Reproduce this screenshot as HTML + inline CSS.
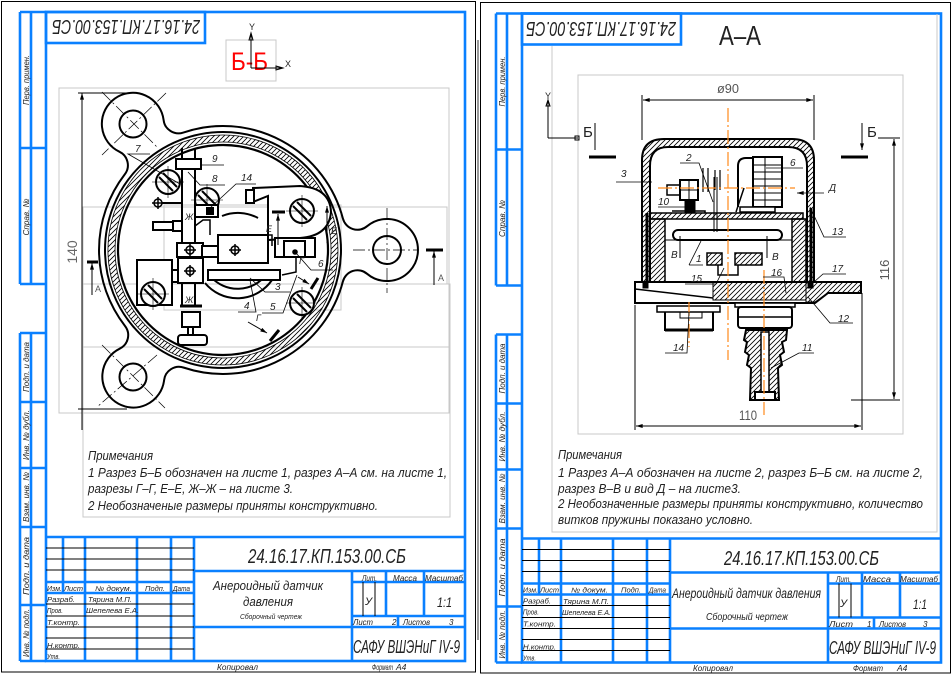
<!DOCTYPE html>
<html><head><meta charset="utf-8"><style>
html,body{margin:0;padding:0;background:#fff;}
svg{display:block;}
text{font-family:"Liberation Sans",sans-serif;font-style:italic;fill:#222;}
.up{font-style:normal;}
</style></head><body>
<svg width="951" height="677" viewBox="0 0 951 677" xmlns="http://www.w3.org/2000/svg">
<defs>
<pattern id="h" patternUnits="userSpaceOnUse" width="5" height="5"><path d="M-1,6 L6,-1 M-1,1 L1,-1 M4,6 L6,4" stroke="#000" stroke-width="0.8"/></pattern>
<marker id="ar" viewBox="0 0 10 6" refX="10" refY="3" markerWidth="8" markerHeight="4" orient="auto-start-reverse" markerUnits="userSpaceOnUse"><path d="M0,0 L10,3 L0,6 Z" fill="#000"/></marker>
<g id="frame" fill="none">
 <g stroke="#0a80ff" stroke-width="2.6">
  <rect x="46" y="12" width="419" height="649"/>
  <path d="M20,12 V284 M31,12 V284 M20,12 H46 M20,148 H46 M20,284 H46"/>
  <path d="M20,333 V661 M31,333 V661 M20,333 H46 M20,402 H46 M20,468 H46 M20,527 H46 M20,605 H46 M20,661 H46"/>
  <rect x="46" y="12" width="159" height="31"/>
  <path d="M46,537 H465 M63,537 V593 M85,537 V661 M137,537 V661 M171,537 V661 M194,537 V661 M46,582 H194 M46,593 H194 M194,571 H465 M352,571 V661 M352,582 H465 M386,571 V616 M424,571 V616 M352,616 H465 M398,616 V627 M194,627 H465"/>
 </g>
 <g stroke="#000" stroke-width="1">
  <path d="M46,548 H194 M46,559 H194 M46,570 H194 M46,604 H194 M46,616 H194 M46,627 H194 M46,638 H194 M46,649 H194 M363,582 V616 M375,582 V616"/>
 </g>
 <g font-size="8.5" text-anchor="middle">
  <text transform="translate(29,80) rotate(-90)" textLength="50" lengthAdjust="spacingAndGlyphs">Перв. примен.</text>
  <text transform="translate(29,217) rotate(-90)" textLength="37" lengthAdjust="spacingAndGlyphs">Справ. №</text>
  <text transform="translate(29,367) rotate(-90)" textLength="50" lengthAdjust="spacingAndGlyphs">Подп. и дата</text>
  <text transform="translate(29,435) rotate(-90)" textLength="50" lengthAdjust="spacingAndGlyphs">Инв. № дубл.</text>
  <text transform="translate(29,497) rotate(-90)" textLength="50" lengthAdjust="spacingAndGlyphs">Взам. инв. №</text>
  <text transform="translate(29,566) rotate(-90)" textLength="58" lengthAdjust="spacingAndGlyphs">Подп. и дата</text>
  <text transform="translate(29,633) rotate(-90)" textLength="48" lengthAdjust="spacingAndGlyphs">Инв. № подл.</text>
 </g>
 <g font-size="7">
  <text x="47" y="591" textLength="15" lengthAdjust="spacingAndGlyphs">Изм.</text>
  <text x="64" y="591" textLength="19" lengthAdjust="spacingAndGlyphs">Лист</text>
  <text x="95" y="591" textLength="37" lengthAdjust="spacingAndGlyphs">№ докум.</text>
  <text x="145" y="591" textLength="20" lengthAdjust="spacingAndGlyphs">Подп.</text>
  <text x="173" y="591" textLength="17" lengthAdjust="spacingAndGlyphs">Дата</text>
  <text x="47" y="602" textLength="28" lengthAdjust="spacingAndGlyphs">Разраб.</text>
  <text x="47" y="613" textLength="16" lengthAdjust="spacingAndGlyphs">Пров.</text>
  <text x="47" y="625" textLength="33" lengthAdjust="spacingAndGlyphs">Т.контр.</text>
  <text x="47" y="648" textLength="33" lengthAdjust="spacingAndGlyphs">Н.контр.</text>
  <text x="47" y="659" textLength="13" lengthAdjust="spacingAndGlyphs">Утв.</text>
 </g>
</g>
<g id="scr"><circle r="12" fill="#fff"/><path d="M-9,-5 L5,9 M-5,-9 L9,5"/><path d="M-16,0 H16 M0,-16 V16" stroke-width="0.6"/></g>
<g id="pl"><circle r="4" fill="#fff" stroke-width="1.5"/><path d="M-6,0H6M0,-6V6" stroke-width="1.5"/></g>
</defs>

<rect width="951" height="677" fill="#fff"/>

<rect x="1.5" y="1.5" width="474" height="670.5" fill="none" stroke="#000" stroke-width="1"/>
<rect x="480.5" y="2.5" width="470" height="670.5" fill="none" stroke="#000" stroke-width="1"/>
<path d="M478,40 V640" stroke="#000" stroke-width="0.8"/>

<use href="#frame"/>
<use href="#frame" transform="translate(476,1.5)"/>

<!-- ================= LEFT SHEET ================= -->
<text transform="translate(126,20) rotate(180)" font-size="20" text-anchor="middle" textLength="148" lengthAdjust="spacingAndGlyphs">24.16.17.КП.153.00.СБ</text>

<g fill="none" stroke="#c8c8c8" stroke-width="1">
 <rect x="226" y="40" width="50" height="41"/>
 <rect x="59" y="88" width="390" height="325"/>
 <rect x="83" y="207" width="364" height="77"/>
 <rect x="164" y="205" width="177" height="105"/>
 <rect x="83" y="284" width="367" height="63"/>
 <rect x="83" y="347" width="367" height="170"/>
</g>

<text class="up" x="231" y="70" font-size="25" style="fill:#ff0000" textLength="37" lengthAdjust="spacingAndGlyphs">Б-Б</text>
<g stroke="#000" stroke-width="1" fill="none">
 <path d="M251,68 V33 M251,68 H283"/>
 <path d="M249,40 L251,33 L253,40 Z M276,66 L283,68 L276,70 Z"/>
</g>
<text class="up" x="249" y="30" font-size="9" fill="#333">Y</text>
<text class="up" x="285" y="67" font-size="9" fill="#333">X</text>

<g fill="none" stroke="#000" stroke-width="2">
 <path d="M183.35,132.53 A124,124 0 0 1 342.9,218.5 A15,15 0 0 0 367.1,226.2 A31,31 0 1 1 367.1,273.8 A15,15 0 0 0 342.9,281.5 A124,124 0 0 1 183.78,367.62 A15,15 0 0 0 164.11,380.16 A31,31 0 1 1 119.71,348.70 A15,15 0 0 0 125.02,325.98 A124,124 0 0 1 124.75,174.39 A15,15 0 0 0 119.35,151.69 A31,31 0 1 1 163.63,120.07 A15,15 0 0 0 183.35,132.53 Z"/>
 <circle cx="133" cy="124" r="13.5"/>
 <circle cx="387" cy="250" r="14"/>
 <circle cx="133" cy="377" r="13.5"/>
 <circle cx="223" cy="250" r="118"/>
 <path d="M223,135 A115,115 0 1 1 222.9,135 Z M223,142 A108,108 0 1 0 223.1,142 Z" fill="url(#h)" fill-rule="evenodd" stroke-width="0.8"/>
 <circle cx="223" cy="250" r="105" stroke-width="2.2"/>
</g>
<g fill="none" stroke="#000" stroke-width="0.7" stroke-dasharray="12,3,2,3">
 <path d="M102,92 L157,147 M166,93 L102,155"/>
 <path d="M102,345 L165,408 M157,355 L97,407"/>
 <path d="M353,250 H417 M387,208 V293"/>
</g>

<g stroke="#000" stroke-width="1" fill="none">
 <path d="M78,93 H133 M78,409 H127"/>
 <path d="M82,93 V430" marker-start="url(#ar)"/>
</g>
<text class="up" transform="translate(77,252) rotate(-90)" font-size="14" text-anchor="middle" style="fill:#666">140</text>

<g stroke="#000" fill="none">
 <path d="M87,262 H98" stroke-width="3"/>
 <path d="M92,295 V263" stroke-width="1" marker-end="url(#ar)"/>
 <path d="M426,250 H443" stroke-width="3"/>
 <path d="M434,285 V251" stroke-width="1" marker-end="url(#ar)"/>
</g>
<text class="up" x="95" y="292" font-size="9" style="fill:#555">А</text>
<text class="up" x="438" y="281" font-size="9" style="fill:#555">А</text>

<g fill="none" stroke="#000" stroke-width="2">
 <path d="M222,216 A42,42 0 0 1 258,218 M205,283 A42,42 0 0 0 272,280 M211,277 A36,36 0 0 0 266,275"/>
 <path d="M182,148 V307 M195,148 V307"/>
 <path d="M158,203 H182"/>
 <rect x="176" y="159" width="25" height="10" fill="#fff"/>
 <use href="#scr" x="168" y="182"/>
 <use href="#scr" x="207" y="200"/>
 <use href="#pl" x="158" y="203"/>
 <rect x="195" y="205" width="23" height="12" fill="#fff"/>
 <rect x="207" y="208" width="6" height="6" fill="#000"/>
 <rect x="153" y="222" width="20" height="8" fill="#fff"/>
 <rect x="173" y="221" width="9" height="10" fill="#fff"/>
 <path d="M195,226 L203,220 H210 V235" stroke-width="1.5"/>
 <path d="M253,202 V188 L300,186 Q330,188 331,212 Q329,236 300,238 L268,240 L268,196 Z" fill="#fff"/>
 <rect x="246" y="190" width="8" height="13" fill="#fff"/>
 <use href="#scr" x="302" y="211"/>
 <rect x="177" y="243" width="26" height="14" fill="#fff"/>
 <rect x="202" y="246" width="16" height="11" fill="#fff"/>
 <rect x="218" y="235" width="50" height="28" fill="#fff"/>
 <use href="#pl" x="190" y="250"/>
 <use href="#pl" x="235" y="250"/>
 <path d="M268,235 H272 V246" stroke-width="1.5"/>
 <rect x="275" y="238" width="40" height="19" fill="#fff"/>
 <rect x="284" y="241" width="21" height="16" fill="#fff"/>
 <circle cx="295" cy="252" r="1.8" fill="#000"/>
 <path d="M296,257 V272 L282,275" stroke-width="1.5"/>
 <rect x="208" y="270" width="72" height="10" fill="#fff"/>
 <rect x="137" y="260" width="35" height="45" fill="#fff"/>
 <use href="#scr" x="153" y="294"/>
 <rect x="172" y="270" width="6" height="12" fill="#fff"/>
 <rect x="178" y="258" width="25" height="25" fill="#fff"/>
 <use href="#pl" x="190" y="271"/>
 <rect x="182" y="312" width="18" height="15" fill="#fff"/>
 <path d="M188,327 V335 M193,327 V335"/>
 <rect x="178" y="335" width="29" height="10" rx="3" fill="#fff"/>
 <path d="M180,306 H202" stroke-width="3"/>
 <use href="#scr" x="302" y="303"/>
</g>
<g stroke="#000" fill="none" stroke-width="1">
 <path d="M272,212 H285" stroke-width="3"/>
 <path d="M278,245 V214" marker-end="url(#ar)"/>
 <path d="M327,243 V206" marker-end="url(#ar)"/>
 <path d="M298,277 L309,284" marker-end="url(#ar)"/>
 <path d="M311,289 L318,278" stroke-width="3"/>
 <path d="M248,322 L267,333" marker-end="url(#ar)"/>
 <path d="M270,341 L279,330" stroke-width="3"/>
</g>
<g font-size="9" fill="#333" class="up" style="font-style:normal">
 <text x="266" y="232">Е</text><text x="331" y="234">Е</text>
 <text x="185" y="220">Ж</text><text x="185" y="303">Ж</text>
 <text x="299" y="264">Г</text><text x="256" y="321">Г</text>
</g>
<g stroke="#000" stroke-width="0.8" fill="none">
 <path d="M150,154 H128 L180,184"/>
 <path d="M224,165 H201"/>
 <path d="M225,185 H200 L188,172"/>
 <path d="M256,184 H236 L210,208"/>
 <path d="M333,270 H311 L296,253"/>
 <path d="M290,292 H265 L250,278"/>
 <path d="M238,312 H256 L250,280"/>
 <path d="M262,313 H283 L297,275"/>
</g>
<g font-size="10" fill="#333">
 <text x="135" y="152">7</text><text x="212" y="162">9</text><text x="212" y="182">8</text>
 <text x="241" y="181">14</text><text x="318" y="267">6</text><text x="275" y="290">3</text>
 <text x="244" y="309">4</text><text x="270" y="310">5</text>
</g>

<g font-size="12.5" fill="#333">
 <text x="88" y="460" textLength="65" lengthAdjust="spacingAndGlyphs">Примечания</text>
 <text x="88" y="477" textLength="359" lengthAdjust="spacingAndGlyphs">1 Разрез Б–Б обозначен на листе 1, разрез А–А см. на листе 1,</text>
 <text x="88" y="493" textLength="205" lengthAdjust="spacingAndGlyphs">разрезы Г–Г, Е–Е, Ж–Ж – на листе 3.</text>
 <text x="88" y="510" textLength="290" lengthAdjust="spacingAndGlyphs">2 Необозначеные размеры приняты конструктивно.</text>
</g>

<text x="248" y="563" font-size="20" textLength="158" lengthAdjust="spacingAndGlyphs">24.16.17.КП.153.00.СБ</text>
<text x="213" y="590" font-size="13" textLength="110" lengthAdjust="spacingAndGlyphs">Анероидный датчик</text>
<text x="243" y="606" font-size="13" textLength="50" lengthAdjust="spacingAndGlyphs">давления</text>
<text x="240" y="619" font-size="7" textLength="62" lengthAdjust="spacingAndGlyphs">Сборочный чертеж</text>
<g font-size="8">
 <text x="362" y="581" textLength="15" lengthAdjust="spacingAndGlyphs">Лит.</text>
 <text x="393" y="581" textLength="24" lengthAdjust="spacingAndGlyphs">Масса</text>
 <text x="425" y="581" textLength="38" lengthAdjust="spacingAndGlyphs">Масштаб</text>
 <text x="353" y="625" textLength="20" lengthAdjust="spacingAndGlyphs">Лист</text>
 <text x="392" y="625">2</text>
 <text x="403" y="625" textLength="27" lengthAdjust="spacingAndGlyphs">Листов</text>
 <text x="449" y="625">3</text>
</g>
<text x="365" y="605" font-size="11">У</text>
<text x="437" y="607" font-size="14" textLength="15" lengthAdjust="spacingAndGlyphs">1:1</text>
<text x="88" y="602" font-size="7" textLength="44" lengthAdjust="spacingAndGlyphs">Тярина М.П.</text>
<text x="86" y="613" font-size="7" textLength="53" lengthAdjust="spacingAndGlyphs">Шепелева Е.А.</text>
<text x="353" y="653" font-size="18" textLength="107" lengthAdjust="spacingAndGlyphs">САФУ ВШЭНиГ IV-9</text>
<text x="217" y="670" font-size="8.5" textLength="41" lengthAdjust="spacingAndGlyphs">Копировал</text>
<text x="372" y="670" font-size="8.5" textLength="21" lengthAdjust="spacingAndGlyphs">Формат</text>
<text x="396" y="670" font-size="8.5">А4</text>

<!-- ================= RIGHT SHEET ================= -->
<text transform="translate(601,22) rotate(180)" font-size="20" text-anchor="middle" textLength="150" lengthAdjust="spacingAndGlyphs">24.16.17.КП.153.00.СБ</text>
<text class="up" x="719" y="45" font-size="28" fill="#111" textLength="42" lengthAdjust="spacingAndGlyphs">А–А</text>

<g fill="none" stroke="#c8c8c8" stroke-width="1">
 <path d="M552,46 V532 H937 V14"/>
 <rect x="578" y="75" width="325" height="359"/>
</g>

<g stroke="#000" stroke-width="1" fill="none">
 <path d="M548,138 V100 M548,138 H578"/>
 <path d="M546,106 L548,100 L550,106 Z"/>
 <rect x="575" y="136" width="4" height="4"/>
</g>
<text class="up" x="545" y="99" font-size="9" fill="#333">Y</text>

<g stroke="#000" fill="none">
 <path d="M589,157 H616 M841,157 H868" stroke-width="3"/>
 <path d="M595,123 V150 M862,123 V150" stroke-width="1" marker-end="url(#ar)"/>
</g>
<text class="up" x="583" y="137" font-size="15" fill="#222">Б</text>
<text class="up" x="867" y="137" font-size="15" fill="#222">Б</text>

<g stroke="#000" stroke-width="1" fill="none">
 <path d="M642,95 V140 M814,95 V140"/>
 <path d="M643,100 H813" marker-start="url(#ar)" marker-end="url(#ar)"/>
 <path d="M878,138 H900 M851,400 H900"/>
 <path d="M894,139 V399" marker-start="url(#ar)" marker-end="url(#ar)"/>
 <path d="M635,305 V430 M862,293 V430"/>
 <path d="M636,426 H861" marker-start="url(#ar)" marker-end="url(#ar)"/>
</g>
<text class="up" x="717" y="93" font-size="13" style="fill:#555" textLength="22" lengthAdjust="spacingAndGlyphs">ø90</text>
<text class="up" transform="translate(889,270) rotate(-90)" font-size="13" text-anchor="middle" style="fill:#555">116</text>
<text class="up" x="739" y="420" font-size="14" style="fill:#555" textLength="18" lengthAdjust="spacingAndGlyphs">110</text>

<g stroke="#000" stroke-width="2" fill="none">
 <path d="M642,282 V160 Q642,139 664,139 H792 Q814,139 814,160 V282 H807 V166 Q807,147 788,147 H668 Q650,147 650,166 V282 Z" fill="url(#h)"/>
 <path d="M647,213 V287 M811,208 V287" stroke-width="3"/>
 <rect x="650" y="213" width="153" height="6" fill="url(#h)" stroke-width="1.5"/>
 <path d="M650,219 H665 V282 H650 Z M792,219 H806 V282 H792 Z" fill="url(#h)" stroke-width="1.5"/>
 <path d="M665,282 H792" stroke-width="1.5"/>
 <path d="M635,282 H861 V293 H828 L815,303 H635 Z"/>
 <path d="M713,282 H806 V300 H713 Z" fill="url(#h)" stroke-width="1"/>
 <path d="M806,282 H861 V293 H828 L815,302 H806 Z" fill="url(#h)" stroke-width="1"/>
 <path d="M635,289 L713,298" stroke-width="1.5"/>
 <rect x="643" y="283" width="5" height="5" fill="#000" stroke-width="1"/>
 <rect x="808" y="283" width="5" height="5" fill="#000" stroke-width="1"/>
 <rect x="673" y="230" width="109" height="10" rx="5" fill="#fff" stroke-width="2"/>
 <path d="M665,240 H792" stroke-width="1"/>
 <path d="M680,236 V258 M767,236 V258" stroke-width="1"/>
 <path d="M707,253 H722 V265 H707 Z M735,253 H762 V265 H735 Z" fill="url(#h)" stroke-width="1.5"/>
 <path d="M718,265 V275 H738 V265" stroke-width="1.5"/>
 <path d="M714,177 V232 M717,177 V232" stroke-width="1"/>
 <path d="M703,168 V192 M708,168 V192 M715,170 V190 M720,170 V190" stroke-width="1.2"/>
 <rect x="667" y="185" width="13" height="10" fill="#fff" stroke-width="1.5"/>
 <rect x="680" y="180" width="18" height="20" fill="#fff"/>
 <path d="M680,190 H698 M689,180 V200" stroke-width="1"/>
 <rect x="685" y="200" width="10" height="13" fill="#000" stroke-width="1"/>
 <path d="M672,211 H705 V213" stroke-width="1.5"/>
 <path d="M738,207 V166 Q738,158 746,158 H753" fill="#fff"/>
 <rect x="753" y="157" width="29" height="50" fill="#fff"/>
 <path d="M753,165 H782 M753,172 H782 M753,179 H782 M753,186 H782 M753,193 H782 M753,200 H782" stroke-width="1"/>
 <path d="M765,157 V207" stroke-width="1"/>
 <rect x="740" y="207" width="35" height="5" fill="#fff" stroke-width="1.5"/>
 <path d="M744,188 L736,212" stroke-width="1.5"/>
 <rect x="735" y="303" width="60" height="4" fill="#fff" stroke-width="1.5"/>
 <rect x="738" y="307" width="54" height="21" rx="3" fill="#fff"/>
 <path d="M738,317 H792" stroke-width="1.5"/>
 <path d="M746,330 L787,330 L786,340 L782,342 L784,352 L780,355 L782,365 L778,368 L779,400 L750,400 L751,368 L747,365 L749,355 L745,352 L747,342 L744,340 Z" fill="url(#h)"/>
 <rect x="761" y="332" width="8" height="60" fill="#fff" stroke-width="1.5"/>
 <rect x="755" y="392" width="20" height="8" fill="#fff"/>
 <rect x="657" y="306" width="63" height="6" fill="#fff" stroke-width="1.5"/>
 <path d="M665,312 V330 H713 V312"/>
 <path d="M665,330 H713" stroke-width="3"/>
 <rect x="680" y="312" width="22" height="6" stroke-width="1"/>
</g>
<g stroke="#ff8a1c" stroke-width="1.2" fill="none" stroke-dasharray="14,3,2,3">
 <path d="M728,108 V360"/>
 <path d="M764,270 V415"/>
 <path d="M689,302 V347"/>
 <path d="M658,188 H795"/>
</g>
<g stroke="#000" stroke-width="0.8" fill="none">
 <path d="M616,182 H652"/>
 <path d="M680,163 H699 L713,202"/>
 <path d="M658,207 H690"/>
 <path d="M766,168 H803"/>
 <path d="M824,193 H797" marker-end="url(#ar)"/>
 <path d="M810,207 L824,237 H846"/>
 <path d="M689,265 L701,241 M689,265 H703"/>
 <path d="M685,284 H716 L724,268"/>
 <path d="M763,277 H784 L786,293"/>
 <path d="M846,274 H823 L814,282"/>
 <path d="M808,297 L830,323 H853"/>
 <path d="M665,353 H687 L689,312"/>
 <path d="M814,353 H799 L771,368"/>
</g>
<g font-size="10" fill="#333">
 <text x="621" y="177">3</text><text x="686" y="161">2</text><text x="658" y="205">10</text>
 <text x="790" y="166">6</text><text x="829" y="191">Д</text><text x="832" y="235">13</text>
 <text x="671" y="258">В</text><text x="772" y="260">В</text><text x="696" y="262">1</text>
 <text x="691" y="282">15</text><text x="771" y="276">16</text><text x="832" y="272">17</text>
 <text x="838" y="322">12</text><text x="673" y="351">14</text><text x="802" y="351">11</text>
</g>

<g font-size="12.5" fill="#333">
 <text x="558" y="459" textLength="64" lengthAdjust="spacingAndGlyphs">Примечания</text>
 <text x="558" y="477" textLength="365" lengthAdjust="spacingAndGlyphs">1 Разрез А–А обозначен на листе 2, разрез Б–Б см. на листе 2,</text>
 <text x="558" y="493" textLength="183" lengthAdjust="spacingAndGlyphs">разрез В–В и вид Д – на листе3.</text>
 <text x="558" y="508" textLength="365" lengthAdjust="spacingAndGlyphs">2 Необозначенные размеры приняты конструктивно, количество</text>
 <text x="558" y="524" textLength="195" lengthAdjust="spacingAndGlyphs">витков пружины показано условно.</text>
</g>

<text x="724" y="565" font-size="20" textLength="155" lengthAdjust="spacingAndGlyphs">24.16.17.КП.153.00.СБ</text>
<text x="672" y="598" font-size="14" textLength="149" lengthAdjust="spacingAndGlyphs">Анероидный датчик давления</text>
<text x="706" y="620" font-size="10" textLength="82" lengthAdjust="spacingAndGlyphs">Сборочный чертеж</text>
<g font-size="8">
 <text x="836" y="582" textLength="15" lengthAdjust="spacingAndGlyphs">Лит.</text>
 <text x="863" y="582" textLength="28" lengthAdjust="spacingAndGlyphs">Масса</text>
 <text x="900" y="582" textLength="38" lengthAdjust="spacingAndGlyphs">Масштаб</text>
 <text x="829" y="627" textLength="24" lengthAdjust="spacingAndGlyphs">Лист</text>
 <text x="867" y="627">1</text>
 <text x="879" y="627" textLength="27" lengthAdjust="spacingAndGlyphs">Листов</text>
 <text x="923" y="627">3</text>
</g>
<text x="840" y="607" font-size="11">У</text>
<text x="913" y="609" font-size="14" textLength="14" lengthAdjust="spacingAndGlyphs">1:1</text>
<text x="563" y="604" font-size="7" textLength="46" lengthAdjust="spacingAndGlyphs">Тярина М.П.</text>
<text x="562" y="615" font-size="7" textLength="49" lengthAdjust="spacingAndGlyphs">Шепелева Е.А.</text>
<text x="829" y="654" font-size="18" textLength="107" lengthAdjust="spacingAndGlyphs">САФУ ВШЭНиГ IV-9</text>
<text x="693" y="671" font-size="8.5" textLength="40" lengthAdjust="spacingAndGlyphs">Копировал</text>
<text x="853" y="671" font-size="8.5" textLength="30" lengthAdjust="spacingAndGlyphs">Формат</text>
<text x="897" y="671" font-size="8.5">А4</text>
</svg>
</body></html>
